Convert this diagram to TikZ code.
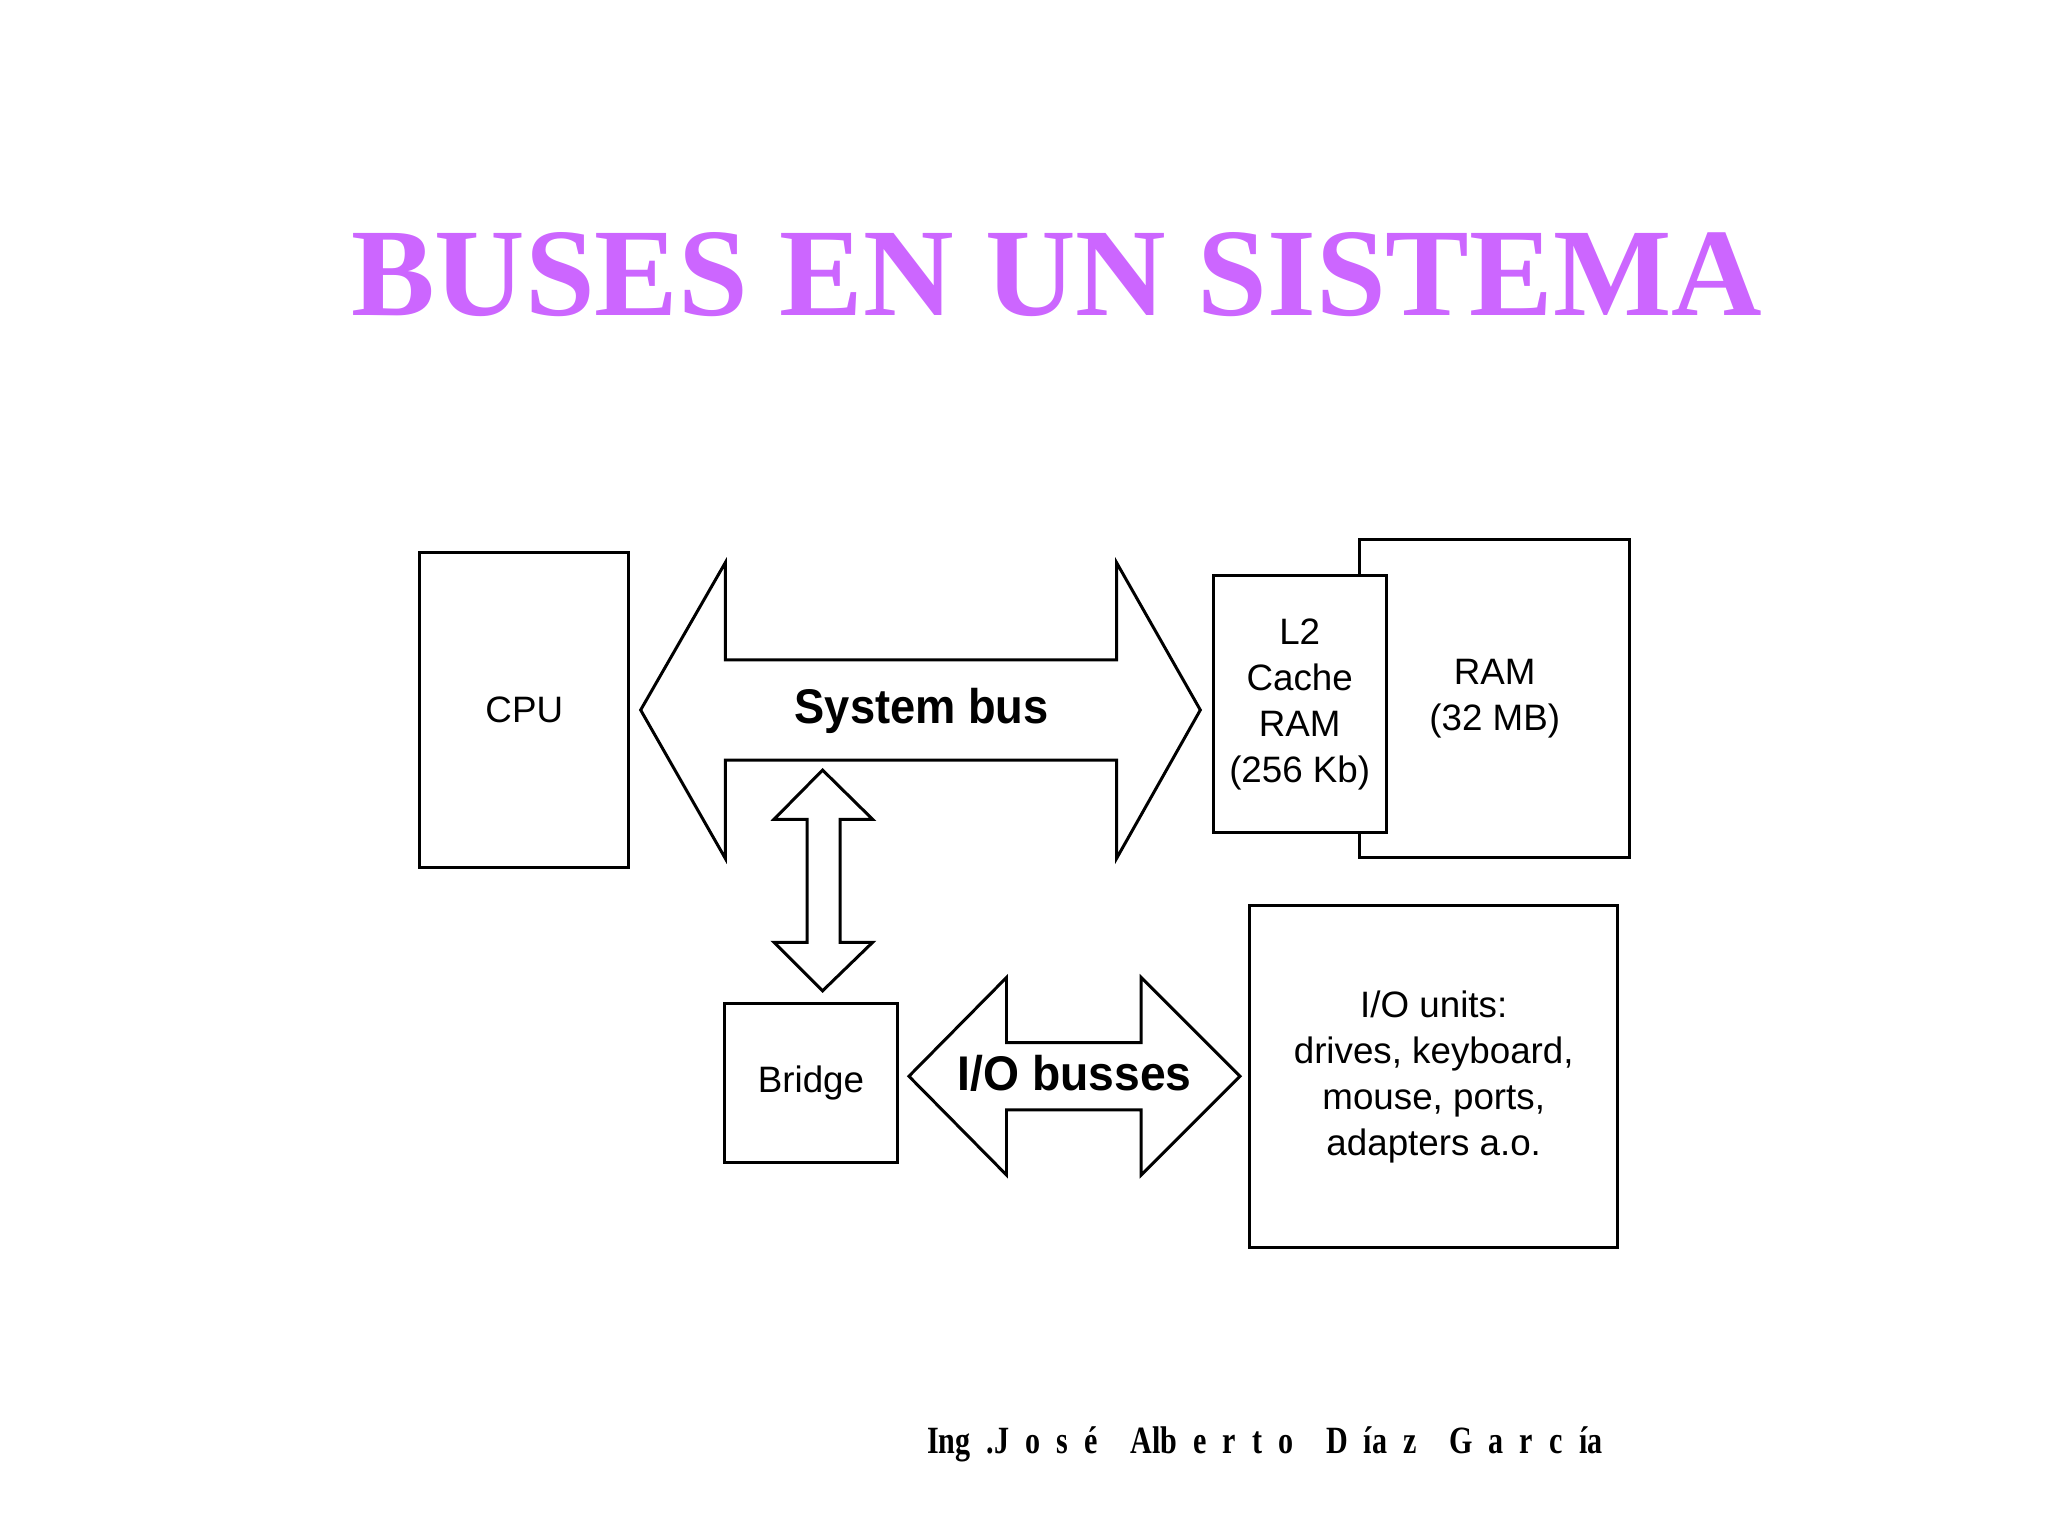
\documentclass[tikz,border=0pt]{standalone}
\usepackage{fontspec}
\setmainfont{Liberation Serif}
\setsansfont{Liberation Sans}
\newfontfamily\signfont[WordSpace=2.15]{Liberation Serif}
\definecolor{titleviolet}{HTML}{CC66FF}

\begin{document}
\begin{tikzpicture}[
    x=0.01cm, y=-0.01cm,
    box/.style={draw, line width=0.65pt, fill=white, inner sep=0pt, align=center,
                font=\sffamily\fontsize{8}{10}\selectfont},
    bus/.style={draw, line width=0.65pt, fill=white, line join=miter},
    busname/.style={font=\sffamily\bfseries\fontsize{10.6}{12}\selectfont,
                    anchor=base, inner sep=0pt}
]
\useasboundingbox (0,0) rectangle (1568,1176);

% Title
\node[font=\bfseries\fontsize{27.3}{30}\selectfont, text=titleviolet, anchor=base, inner sep=0pt]
    (title) at (809,241.5) {BUSES EN UN SISTEMA};

% Units
\node[box, minimum width=1.597cm, minimum height=2.415cm] (cpu) at (401.4,543.7) {CPU};
\node[box, minimum width=2.062cm, minimum height=2.432cm] (ram) at (1144.4,535.1) {RAM\\(32 MB)};
\node[box, minimum width=1.322cm, minimum height=1.965cm] (cache) at (995.1,539.1) {L2\\Cache\\RAM\\(256 Kb)};
\node[box, minimum width=1.326cm, minimum height=1.22cm] (bridge) at (620.9,829.2) {Bridge};
\node[box, minimum width=2.812cm, minimum height=2.619cm] (iounits) at (1097.7,824.4)
    {I/O units:\\drives, keyboard,\\mouse, ports,\\adapters a.o.};

% System bus
\draw[bus] (490.5,543.6) -- (555.3,430.8) -- (555.3,505.3) -- (854.9,505.3) -- (854.9,430.8)
    -- (919,543.6) -- (854.9,657.2) -- (854.9,581.9) -- (555.3,581.9) -- (555.3,657.2) -- cycle;
\node[busname] (sysbus) at (705.7,553.8) {\scalebox{0.93}[1]{System bus}};

% Bus to bridge
\draw[bus] (629.8,589.6) -- (668.1,627.3) -- (643.2,627.3) -- (643.2,721.5) -- (668.1,721.5)
    -- (629.8,758.6) -- (592.6,721.5) -- (618,721.5) -- (618,627.3) -- (592.6,627.3) -- cycle;

% I/O busses
\draw[bus] (695.9,824) -- (770.6,748.4) -- (770.6,798.2) -- (873.7,798.2) -- (873.7,748.4)
    -- (949.4,824) -- (873.7,899.6) -- (873.7,849.8) -- (770.6,849.8) -- (770.6,899.6) -- cycle;
\node[busname] (iobus) at (822.7,834.6) {\scalebox{0.95}[1]{I/O busses}};

% Author
\node[font=\signfont\bfseries\fontsize{8.4}{10}\selectfont, anchor=base, inner sep=0pt]
    (author) at (968.4,1112.8)
    {\scalebox{0.78}[1]{Ing .J o s é\hspace{4.5pt} Alb e r t o\hspace{4.5pt} D ía z\hspace{4.5pt} G a r c ía}};

\end{tikzpicture}
\end{document}
